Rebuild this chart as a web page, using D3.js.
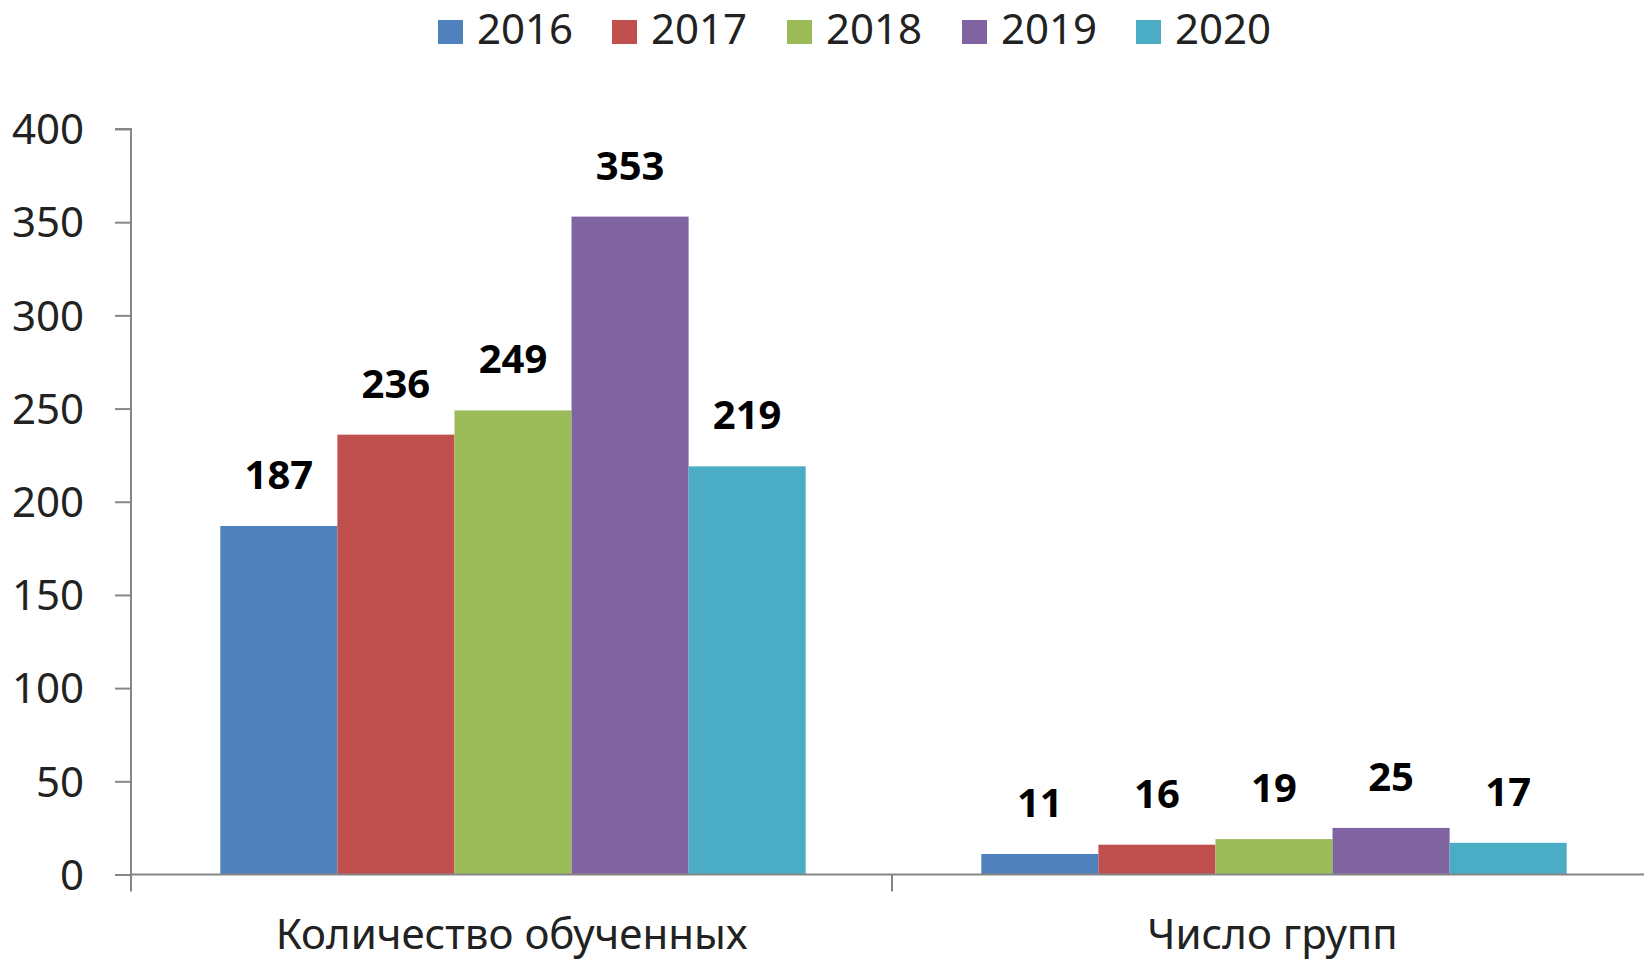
<!DOCTYPE html>
<html><head><meta charset="utf-8">
<script src="https://cdn.jsdelivr.net/npm/d3@7"></script>
<style>body{margin:0;background:#fff;}svg{display:block;font-family:"Noto Sans",sans-serif;}</style>
</head><body>
<svg id="c" width="1644" height="961"></svg>
<script>
const categories = ["Количество обученных", "Число групп"];
const years = ["2016", "2017", "2018", "2019", "2020"];
const colors = ["#4F81BD", "#C0504D", "#9BBB59", "#8064A2", "#4BACC6"];
const values2016 = [187, 11];
const values2017 = [236, 16];
const values2018 = [249, 19];
const values2019 = [353, 25];
const values2020 = [219, 17];
const yTicks = [0, 50, 100, 150, 200, 250, 300, 350, 400];

(function () {
const series = [values2016, values2017, values2018, values2019, values2020];
const svg = d3.select("#c");
const pLeft = 131, pRight = 1653, pTop = 129, pBottom = 874.5;

const x0 = d3.scaleBand().domain(categories).range([pLeft, pRight]).paddingInner(0).paddingOuter(0);
const x1 = d3.scaleBand().domain(years).range([1.5, x0.bandwidth() + 1.5]).paddingOuter(0.75).paddingInner(0);
const y = d3.scaleLinear().domain([0, 400]).range([pBottom, pTop]);

// bars
categories.forEach((cat, ci) => {
  years.forEach((yr, si) => {
    const v = series[si][ci];
    svg.append("rect")
      .attr("x", x0(cat) + x1(yr))
      .attr("y", y(v))
      .attr("width", x1.bandwidth())
      .attr("height", y(0) - y(v))
      .attr("fill", colors[si]);
    svg.append("text")
      .attr("x", x0(cat) + x1(yr) + x1.bandwidth()/2)
      .attr("y", y(v) - 37)
      .attr("text-anchor", "middle")
      .attr("font-size", 40)
      .attr("font-weight", "bold")
      .attr("fill", "#000")
      .text(v);
  });
});

// y axis
const axisColor = "#868686";
const yAxis = d3.axisLeft(y).tickValues(yTicks).tickSize(16).tickPadding(31).tickFormat(d3.format("d"));
const gy = svg.append("g").attr("transform", `translate(${pLeft},0)`).call(yAxis);
gy.select(".domain").attr("stroke", axisColor).attr("stroke-width", 2).attr("d", `M-16,${pTop}H0V${pBottom}`);
gy.selectAll(".tick line").attr("stroke", axisColor).attr("stroke-width", 2);
gy.selectAll(".tick text").attr("font-size", 42).attr("fill", "#222").attr("font-family", "Noto Sans").attr("dy", "0.35em");

// x axis
const gx = svg.append("g");
gx.append("line").attr("x1", pLeft).attr("x2", pRight).attr("y1", pBottom).attr("y2", pBottom).attr("stroke", axisColor).attr("stroke-width", 2);
const boundaries = [pLeft, x0(categories[1]), pRight];
boundaries.forEach(b => {
  gx.append("line").attr("x1", b).attr("x2", b).attr("y1", pBottom).attr("y2", pBottom + 17).attr("stroke", axisColor).attr("stroke-width", 2);
});
categories.forEach(cat => {
  gx.append("text").attr("x", x0(cat) + x0.bandwidth()/2).attr("y", 949)
    .attr("text-anchor", "middle").attr("font-size", 42).attr("fill", "#222").text(cat);
});

// legend
const legendX = [438, 612, 787, 962, 1136];
years.forEach((yr, i) => {
  const g = svg.append("g").attr("transform", `translate(${legendX[i]},0)`);
  g.append("rect").attr("x", 0).attr("y", 20).attr("width", 25).attr("height", 24).attr("fill", colors[i]);
  g.append("text").attr("x", 39).attr("y", 44).attr("font-size", 42).attr("fill", "#222").text(yr);
});
})();
</script>
</body></html>
